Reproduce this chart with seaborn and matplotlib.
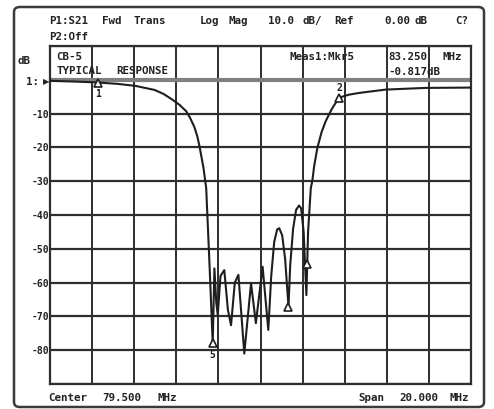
import numpy as np
import pandas as pd
import matplotlib
matplotlib.use("Agg")
import matplotlib.pyplot as plt
from matplotlib.patches import FancyBboxPatch
import seaborn as sns

# ---- data ----
freq_mhz = [69.50, 70.60, 71.77, 72.70, 73.56, 74.47, 74.90, 75.32, 75.65, 75.97,
            76.15, 76.36, 76.50, 76.60, 76.79, 76.92, 77.08, 77.23, 77.31, 77.40,
            77.47, 77.60, 77.78, 77.95, 78.10, 78.28, 78.45, 78.73, 79.05, 79.28,
            79.60, 79.87, 80.01, 80.15, 80.29, 80.39, 80.53, 80.67, 80.83, 80.91,
            81.05, 81.19, 81.33, 81.43, 81.55, 81.68, 81.76, 81.89, 81.96, 82.05,
            82.20, 82.40, 82.60, 82.90, 83.23, 83.70, 84.17, 85.44, 87.33, 89.50]
s21_db = [-0.3, -0.5, -0.8, -1.2, -1.8, -3.0, -4.2, -5.9, -7.4, -9.3,
          -11.2, -14.0, -16.8, -19.6, -26.0, -32.0, -55.0, -78.0, -55.8, -66.0,
          -69.6, -58.0, -56.3, -68.0, -72.6, -60.0, -57.7, -81.0, -60.2, -72.0,
          -55.3, -74.0, -58.0, -48.0, -44.3, -43.9, -46.0, -53.0, -67.1, -55.0,
          -44.0, -38.5, -37.2, -38.0, -45.0, -63.7, -45.0, -32.0, -30.0, -25.5,
          -20.2, -15.5, -12.2, -8.5, -5.3, -4.4, -3.9, -2.9, -2.4, -2.3]

marker_freqs = [71.77, 83.25, 81.72, 80.83, 77.23]
marker_labels = ["1", "2", "", "", "5"]
marker_label_side = ["below", "above", "", "", "below"]

y_tick_values = [-10, -20, -30, -40, -50, -60, -70, -80]
y_tick_labels = ["-10", "-20", "-30", "-40", "-50", "-60", "-70", "-80"]

center_mhz = 79.5
span_mhz = 20.0
ref_db = 0.0
scale_db = 10.0

# ---- figure ----
sns.set_style("white")
plt.rcParams['font.family'] = ['DejaVu Sans Mono', 'DejaVu Sans']

W, H = 494, 410
fig = plt.figure(figsize=(W / 100, H / 100), dpi=100)
fig.patch.set_facecolor("white")

def fx(x):
    return x / W

def fy(y):
    return 1 - y / H

# outer rounded frame
frame = FancyBboxPatch((fx(14), fy(408)), fx(484) - fx(14), fy(8) - fy(408),
                       boxstyle="round,pad=0,rounding_size=0.012",
                       transform=fig.transFigure, fill=False,
                       edgecolor="#3a3a3a", linewidth=1.8)
fig.patches.append(frame)

ax = fig.add_axes([fx(50), fy(385), fx(471) - fx(50), fy(47) - fy(385)])

df = pd.DataFrame({"freq": freq_mhz, "db": s21_db})

fmin = center_mhz - span_mhz / 2
fmax = center_mhz + span_mhz / 2
ymax = ref_db + scale_db
ymin = ref_db - 9 * scale_db
ax.set_xlim(fmin, fmax)
ax.set_ylim(ymin, ymax)

gcol = "#2e2e2e"
for xv in np.arange(fmin, fmax + 0.01, span_mhz / 10):
    ax.axvline(xv, color=gcol, lw=1.4, zorder=1)
for yv in np.arange(ymin, ymax + 0.01, scale_db):
    if abs(yv - ref_db) < 1e-6:
        ax.axhline(yv, color="#808080", lw=3.0, zorder=1)
    else:
        ax.axhline(yv, color=gcol, lw=1.6, zorder=1)

sns.lineplot(data=df, x="freq", y="db", ax=ax, color="#1e1e1e", lw=1.5,
             zorder=3, sort=False, estimator=None)

# markers
for f, lab, side in zip(marker_freqs, marker_labels, marker_label_side):
    yv = float(np.interp(f, freq_mhz, s21_db))
    ax.plot([f], [yv], marker="^", ms=5.5, mfc="white", mec="#1e1e1e",
            mew=1.2, zorder=4)
    if lab:
        dy = -3.2 if side == "below" else 3.2
        ax.text(f, yv + dy, lab, ha="center", va="center", fontsize=7,
                fontweight="bold", color="#1e1e1e", zorder=5)

ax.set_xticks([])
ax.set_yticks([])
ax.set_xlabel("")
ax.set_ylabel("")
for s in ax.spines.values():
    s.set_color(gcol)
    s.set_linewidth(1.6)

tkw = dict(fontsize=7.8, fontweight="bold", color="#222222", va="center",
           family=['DejaVu Sans Mono', 'DejaVu Sans'])

# header
fig.text(fx(49), fy(21), "P1:S21", **tkw)
fig.text(fx(102), fy(21), "Fwd", **tkw)
fig.text(fx(133), fy(21), "Trans", **tkw)
fig.text(fx(200), fy(21), "Log", **tkw)
fig.text(fx(228), fy(21), "Mag", **tkw)
fig.text(fx(268), fy(21), "10.0", **tkw)
fig.text(fx(302), fy(21), "dB/", **tkw)
fig.text(fx(334), fy(21), "Ref", **tkw)
fig.text(fx(384), fy(21), "0.00", **tkw)
fig.text(fx(414), fy(21), "dB", **tkw)
fig.text(fx(455), fy(21), "C?", **tkw)
fig.text(fx(49), fy(37), "P2:Off", **tkw)

# annotations in top row of grid
fig.text(fx(56), fy(57), "CB-5", **tkw)
fig.text(fx(56), fy(71), "TYPICAL", **tkw)
fig.text(fx(116), fy(71), "RESPONSE", **tkw)
fig.text(fx(289), fy(57), "Meas1:Mkr5", **tkw)
fig.text(fx(388), fy(57), "83.250", **tkw)
fig.text(fx(442), fy(57), "MHz", **tkw)
fig.text(fx(388), fy(72), "-0.817dB", **tkw)

# y-axis labels
fig.text(fx(17), fy(61), "dB", **tkw)
fig.text(fx(26), fy(82), "1:", **tkw)
fig.text(fx(49), fy(82), "\u25b6", fontsize=6, color="#222222", va="center",
         ha="right", family=['DejaVu Sans'])
ytkw = dict(tkw)
ytkw["ha"] = "right"
ytkw["fontsize"] = 7
for yv, lab in zip(y_tick_values, y_tick_labels):
    disp = ax.transData.transform((fmin, yv))
    fig.text(fx(49), disp[1] / H, lab, **ytkw)

# footer
fig.text(fx(48), fy(398), "Center", **tkw)
fig.text(fx(102), fy(398), "79.500", **tkw)
fig.text(fx(157), fy(398), "MHz", **tkw)
fig.text(fx(358), fy(398), "Span", **tkw)
fig.text(fx(399), fy(398), "20.000", **tkw)
fig.text(fx(449), fy(398), "MHz", **tkw)

fig.savefig("out.png", dpi=100)
